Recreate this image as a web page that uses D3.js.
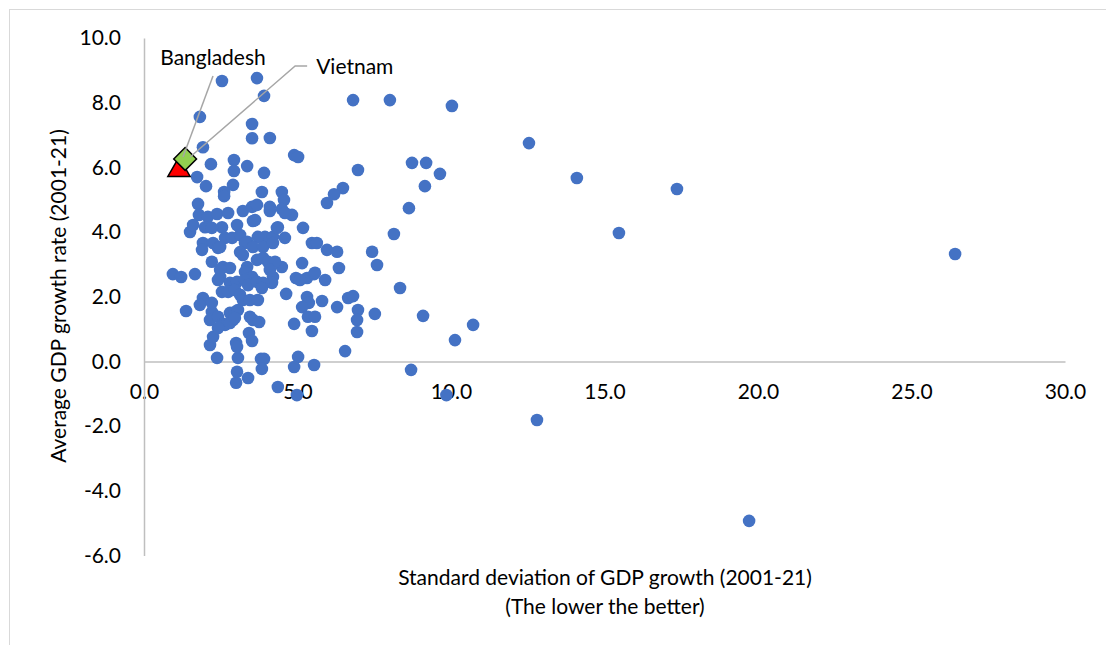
<!DOCTYPE html>
<html>
<head>
<meta charset="utf-8">
<script src="https://cdn.jsdelivr.net/npm/d3@7"></script>
<style>
  body { margin: 0; background: #fff; }
  text { font-family: Lato, "Open Sans", sans-serif; fill: #000; }
</style>
</head>
<body>
<div id="chart"></div>
<script>
// standard deviation of GDP growth (x) and average GDP growth (y), 2001-21
var sdGrowth = [
  2.54, 3.68, 3.91, 6.81, 8.01, 10.03, 1.82, 3.52, 3.52, 4.10,
  12.54, 1.92, 4.89, 5.02, 2.93, 2.18, 3.36, 6.97, 2.93, 3.91,
  1.73, 14.10, 8.73, 9.19, 9.64, 9.15, 8.63, 8.14, 6.48, 6.19,
  5.96, 17.36, 15.47, 26.42, 5.18, 5.47, 5.63, 5.96, 6.29, 7.43,
  7.59, 6.35, 5.15, 5.31, 5.54, 5.90, 8.34, 5.31, 5.37, 5.15,
  5.80, 6.65, 6.81, 6.29, 6.97, 6.94, 6.94, 7.52, 9.09, 10.72,
  10.13, 5.34, 5.57, 5.47, 6.55, 5.54, 8.70, 9.85, 12.80, 19.71,
  5.02, 4.89, 4.98, 4.36, 3.81, 3.91, 3.84, 3.39, 3.00, 3.03,
  3.06, 3.00, 3.03, 2.38, 2.15, 2.25, 3.42, 3.52, 4.89, 1.76,
  1.79, 2.08, 2.38, 2.74, 3.22, 3.52, 1.50, 1.60, 1.99, 2.54,
  3.03, 3.55, 1.92, 2.25, 2.64, 2.87, 3.36, 2.02, 2.90, 2.61,
  2.61, 3.84, 4.49, 4.56, 3.68, 4.10, 4.10, 4.49, 4.82, 4.59,
  3.62, 4.36, 3.94, 4.20, 4.59, 1.89, 2.41, 0.94, 1.21, 1.66,
  2.21, 2.57, 2.80, 2.48, 2.54, 1.92, 1.82, 1.37, 2.21, 2.15,
  2.41, 2.57, 2.90, 4.49, 4.95, 4.63, 2.21, 2.48, 3.13, 3.71,
  4.33, 3.29, 3.55, 3.88, 4.20, 3.13, 3.22, 3.68, 3.88, 4.04,
  4.27, 3.36, 3.29, 3.52, 4.10, 4.20, 4.17, 2.48, 2.41, 2.80,
  3.03, 3.29, 3.39, 3.68, 3.88, 3.84, 2.74, 2.96, 3.13, 3.22,
  3.45, 3.71, 2.21, 2.80, 2.96, 3.06, 2.64, 2.80, 2.41, 3.45,
  3.55, 3.75, 2.96, 5.08, 5.57
];
var avgGrowth = [
  8.67, 8.76, 8.21, 8.08, 8.08, 7.90, 7.56, 7.34, 6.90, 6.91,
  6.75, 6.62, 6.38, 6.32, 6.23, 6.10, 6.04, 5.92, 5.89, 5.83,
  5.70, 5.67, 6.14, 6.14, 5.80, 5.42, 4.74, 3.94, 5.36, 5.17,
  4.90, 5.33, 3.97, 3.32, 4.13, 3.66, 3.66, 3.45, 3.39, 3.39,
  2.98, 2.89, 3.04, 2.58, 2.70, 2.52, 2.27, 1.99, 1.81, 1.68,
  1.87, 1.96, 2.02, 1.68, 1.59, 1.28, 0.91, 1.47, 1.41, 1.13,
  0.66, 1.38, 1.38, 0.94, 0.32, -0.11, -0.26, -1.04, -1.81, -4.93,
  0.14, -0.17, -1.04, -0.79, 0.08, 0.08, -0.23, -0.51, -0.66, -0.32,
  0.11, 0.57, 0.45, 0.11, 0.51, 0.76, 0.88, 0.63, 1.16, 4.87,
  4.53, 4.47, 4.56, 4.59, 4.65, 4.78, 4.00, 4.22, 4.15, 4.15,
  4.22, 4.34, 3.66, 3.66, 3.82, 3.82, 3.70, 5.42, 5.46, 5.24,
  5.11, 5.24, 5.24, 4.99, 4.84, 4.78, 4.65, 4.71, 4.53, 4.59,
  4.37, 4.15, 3.85, 3.85, 3.82, 3.45, 3.51, 2.70, 2.61, 2.70,
  3.08, 2.92, 2.89, 2.61, 2.15, 1.96, 1.75, 1.56, 1.53, 1.28,
  1.38, 1.16, 1.28, 2.92, 2.58, 2.09, 4.13, 3.54, 3.91, 3.85,
  4.13, 3.66, 3.54, 3.54, 3.66, 3.38, 3.29, 3.14, 3.20, 3.08,
  3.08, 2.92, 2.77, 2.61, 2.83, 2.61, 2.43, 2.83, 2.52, 2.43,
  2.46, 2.52, 2.36, 2.46, 2.43, 2.27, 2.15, 2.21, 2.06, 1.90,
  1.90, 1.90, 1.81, 1.50, 1.53, 1.59, 1.13, 1.19, 1.03, 1.38,
  1.28, 1.22, 1.34, 2.52, 2.74
];

var highlightNames = ["Bangladesh", "Vietnam"];
var highlightSd = [1.14, 1.34];
var highlightAvg = [5.92, 6.26];

var xTicks = [0, 5, 10, 15, 20, 25, 30];
var yTicks = [-6, -4, -2, 0, 2, 4, 6, 8, 10];

var width = 1106, height = 645;
var fontSize = "21px";

var svg = d3.select("#chart").append("svg")
    .attr("width", width)
    .attr("height", height);

// chart border
svg.append("rect")
   .attr("x", 9.5).attr("y", 9.5)
   .attr("width", 1200).attr("height", 1000)
   .attr("fill", "none")
   .attr("stroke", "#d9d9d9");

var x = d3.scaleLinear().domain([0, 30]).range([144, 1065]),
    y = d3.scaleLinear().domain([-6, 10]).range([555.5, 38]);

// excel style labels, plain hyphen for minus
var fmt = function(d) { return d.toFixed(1); };

// x axis crosses at y = 0
var xAxis = svg.append("g")
   .attr("transform", "translate(0," + y(0) + ")")
   .call(d3.axisBottom(x).tickValues(xTicks).tickSize(0).tickPadding(23).tickFormat(fmt));

var yAxis = svg.append("g")
   .attr("transform", "translate(" + x(0) + ",0)")
   .call(d3.axisLeft(y).tickValues(yTicks).tickSize(0).tickPadding(23).tickFormat(fmt));

[xAxis, yAxis].forEach(function(a) {
  a.select(".domain").attr("stroke", "#bfbfbf").attr("stroke-width", 1.5);
  a.selectAll("text").style("font-size", fontSize).style("font-family", "Lato, sans-serif").attr("fill", "#000");
});

var pts = sdGrowth.map(function(d, i) { return {sd: d, avg: avgGrowth[i]}; });

svg.append("g").selectAll("circle")
   .data(pts)
   .enter().append("circle")
   .attr("cx", function(d) { return x(d.sd); })
   .attr("cy", function(d) { return y(d.avg); })
   .attr("r", 6.3)
   .attr("fill", "#4472c4");

// highlighted countries
var hl = highlightNames.map(function(n, i) { return {name: n, sd: highlightSd[i], avg: highlightAvg[i]}; });

svg.append("path")
   .attr("d", d3.symbol().type(d3.symbolTriangle).size(215)())
   .attr("transform", "translate(" + x(hl[0].sd) + "," + y(hl[0].avg) + ")")
   .attr("fill", "#ff0000").attr("stroke", "#000").attr("stroke-width", 1.5);

svg.append("path")
   .attr("d", d3.symbol().type(d3.symbolSquare).size(260)())
   .attr("transform", "translate(" + x(hl[1].sd) + "," + y(hl[1].avg) + ") rotate(45)")
   .attr("fill", "#92d050").attr("stroke", "#000").attr("stroke-width", 1.5);

// leader lines and labels
var bx = x(hl[0].sd), by = y(hl[0].avg);
svg.append("path")
   .attr("d", "M" + (bx + 34) + "," + (by - 94) + "L" + (bx + 4) + "," + (by - 13))
   .attr("stroke", "#a6a6a6").attr("stroke-width", 1.5).attr("fill", "none");
svg.append("text")
   .attr("x", bx + 34).attr("y", by - 105)
   .attr("text-anchor", "middle")
   .style("font-size", fontSize)
   .text(hl[0].name);

var vx = x(hl[1].sd), vy = y(hl[1].avg);
svg.append("path")
   .attr("d", "M" + (vx + 122) + "," + (vy - 93) + "L" + (vx + 110) + "," + (vy - 93) + "L" + (vx + 5) + "," + (vy - 2))
   .attr("stroke", "#a6a6a6").attr("stroke-width", 1.5).attr("fill", "none");
svg.append("text")
   .attr("x", vx + 131).attr("y", vy - 85)
   .style("font-size", fontSize)
   .text(hl[1].name);

// axis titles
svg.append("text")
   .attr("x", 605).attr("y", 585)
   .attr("text-anchor", "middle")
   .style("font-size", fontSize)
   .text("Standard deviation of GDP growth (2001-21)");
svg.append("text")
   .attr("x", 605).attr("y", 614)
   .attr("text-anchor", "middle")
   .style("font-size", fontSize)
   .text("(The lower the better)");

svg.append("text")
   .attr("transform", "translate(66,296) rotate(-90)")
   .attr("text-anchor", "middle")
   .style("font-size", fontSize)
   .text("Average GDP growth rate (2001-21)");
</script>
</body>
</html>
